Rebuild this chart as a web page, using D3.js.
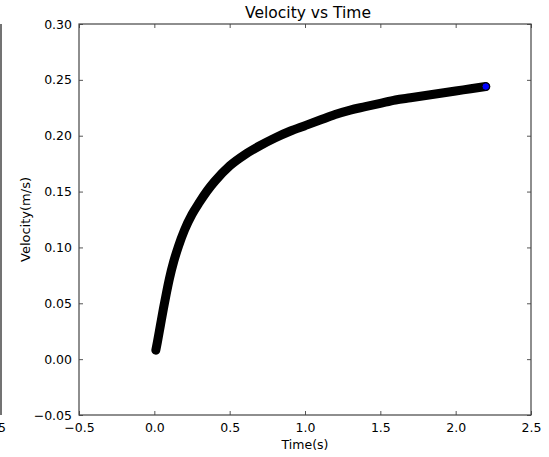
<!DOCTYPE html>
<html>
<head>
<meta charset="utf-8">
<script src="https://cdn.jsdelivr.net/npm/d3@7"></script>
<style>
    body { margin: 0; background: #fff; }
    text { font-family: "DejaVu Sans", sans-serif; fill: #000; }
</style>
</head>
<body>
<svg id="chart" width="549" height="457"></svg>
<script>

const times = [0.01, 0.02, 0.04, 0.06, 0.08, 0.10, 0.13, 0.16, 0.20, 0.25, 0.30, 0.35, 0.40,
    0.50, 0.60, 0.70, 0.80, 0.90, 1.00, 1.10, 1.20, 1.30, 1.40, 1.50, 1.60, 1.70, 1.80,
    1.90, 2.00, 2.10, 2.20]
const velocities = [0.008, 0.015, 0.030, 0.045, 0.059, 0.072, 0.088, 0.101, 0.1155, 0.1295, 0.1405, 0.1505, 0.159,
    0.173, 0.183, 0.191, 0.198, 0.204, 0.209, 0.214, 0.219, 0.223, 0.226, 0.229, 0.232, 0.234, 0.236,
    0.238, 0.240, 0.242, 0.244]

const xTicks = [-0.5, 0.0, 0.5, 1.0, 1.5, 2.0, 2.5]
const yTicks = [-0.05, 0.00, 0.05, 0.10, 0.15, 0.20, 0.25, 0.30]

const data = times.map((t, i) => ({ t: t, v: velocities[i] }))

const width = 549
const height = 457
const margin = { top: 24, right: 18, bottom: 42, left: 79 };

const innerWidth = width - margin.left - margin.right;
const innerHeight = height - margin.top - margin.bottom;

const xScale = d3.scaleLinear()
    .domain([-0.5, 2.5])
    .range([0, innerWidth]);

const yScale = d3.scaleLinear()
    .domain([-0.05, 0.30])
    .range([innerHeight, 0]);

const svg = d3.select('#chart')

// leftover edge of the neighbouring subplot
svg.append('line')
    .attr('x1', 1).attr('x2', 1)
    .attr('y1', margin.top).attr('y2', margin.top + innerHeight)
    .attr('stroke', '#444').attr('stroke-width', 1.5)
svg.append('text')
    .attr('x', 6).attr('y', margin.top + innerHeight + 17)
    .attr('text-anchor', 'end')
    .style('font-size', '12.5px')
    .text('2.5')

const g = svg.append('g')
    .attr('transform', 'translate(' + margin.left + ',' + margin.top + ')');

// ticks inside, on all four sides (classic matplotlib)
const minus = s => s.replace('-', '\u2212')

g.append('g').call(d3.axisBottom(xScale).tickValues(xTicks).tickSize(-4).tickPadding(8).tickFormat(d => minus(d3.format('.1f')(d))))
    .attr('transform', 'translate(0,' + innerHeight + ')')
    .style('font-size', '12.5px')
g.append('g').call(d3.axisTop(xScale).tickValues(xTicks).tickSize(-4).tickFormat(''))
    .attr('class', 'noLabels')
g.append('g').call(d3.axisLeft(yScale).tickValues(yTicks).tickSize(-4).tickPadding(7).tickFormat(d => minus(d3.format('.2f')(d))))
    .style('font-size', '12.5px')
g.append('g').call(d3.axisRight(yScale).tickValues(yTicks).tickSize(-4).tickFormat(''))
    .attr('transform', 'translate(' + innerWidth + ',0)')
    .attr('class', 'noLabels')

g.selectAll('.noLabels text').remove()
g.selectAll('.domain').remove()
g.selectAll('.tick line').attr('stroke', '#555')
g.selectAll('.tick text').style('font-family', '"DejaVu Sans", sans-serif')

g.append('rect')
    .attr('width', innerWidth)
    .attr('height', innerHeight)
    .attr('fill', 'none')
    .attr('stroke', '#444')
    .attr('stroke-width', 1.2)

// the dense markers show up as one thick black band
const line = d3.line()
    .x(d => xScale(d.t))
    .y(d => yScale(d.v))
    .curve(d3.curveMonotoneX)

g.append('path')
    .datum(data)
    .attr('d', line)
    .attr('fill', 'none')
    .attr('stroke', '#000')
    .attr('stroke-width', 9)
    .attr('stroke-linecap', 'round')
    .attr('stroke-linejoin', 'round')

g.append('circle')
    .datum(data[data.length - 1])
    .attr('cx', d => xScale(d.t))
    .attr('cy', d => yScale(d.v))
    .attr('r', 3.8)
    .attr('fill', '#0000ff')
    .attr('stroke', '#000')
    .attr('stroke-width', 1)

svg.append('text')
    .attr('x', margin.left + innerWidth / 2 + 3)
    .attr('y', 18)
    .attr('text-anchor', 'middle')
    .style('font-size', '15.5px')
    .text('Velocity vs Time')

svg.append('text')
    .attr('x', margin.left + innerWidth / 2)
    .attr('y', 449)
    .attr('text-anchor', 'middle')
    .style('font-size', '12.5px')
    .text('Time(s)')

svg.append('text')
    .attr('transform', 'translate(' + 30 + ',' + (margin.top + innerHeight / 2) + ') rotate(-90)')
    .attr('text-anchor', 'middle')
    .style('font-size', '13px')
    .text('Velocity(m/s)')

</script>
</body>
</html>
